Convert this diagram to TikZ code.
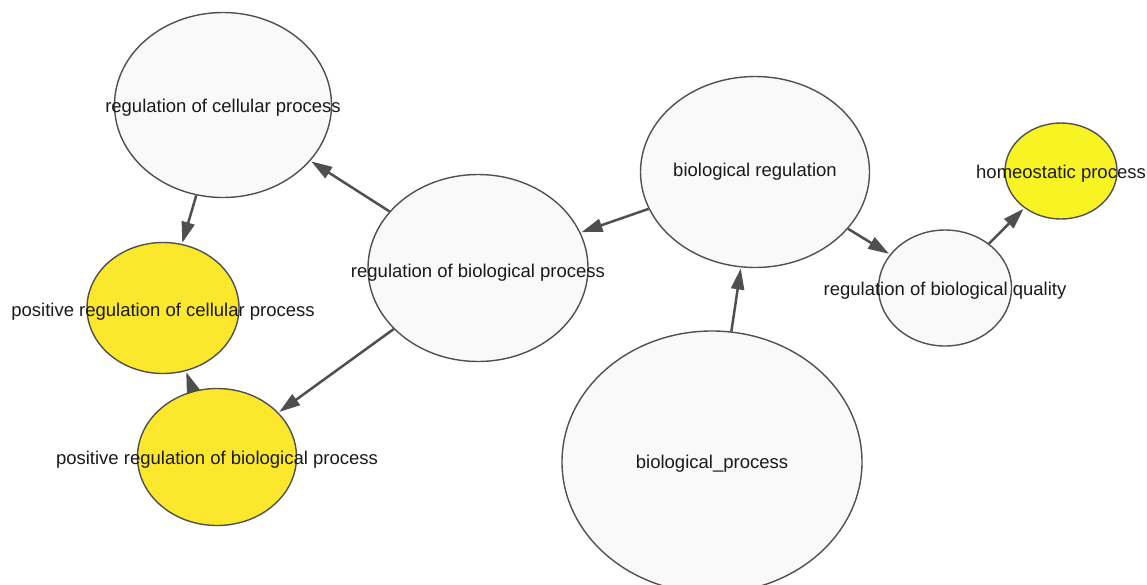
\documentclass[tikz,border=0pt]{standalone}
\usepackage{fontspec}
\setmainfont{Liberation Sans}
\usetikzlibrary{shapes.geometric,arrows.meta}
\definecolor{nodefill}{HTML}{F9F9F9}
\definecolor{nodeline}{HTML}{505050}
\definecolor{goldy}{HTML}{FBE72C}
\definecolor{lemon}{HTML}{F8F424}
\definecolor{edgecol}{HTML}{4F4F4F}
\definecolor{txtcol}{HTML}{1A1A1A}
\tikzset{
  term/.style={ellipse, draw=nodeline, line width=1.4pt, fill=nodefill, inner sep=0pt},
  lbl/.style={text=txtcol, font=\fontsize{18.5}{22}\selectfont, inner sep=0pt, anchor=center},
  edge/.style={draw=edgecol, line width=2.5pt, -{Triangle[length=21pt,width=13pt]}, shorten >=1pt, shorten <=0pt, color=edgecol},
}
\begin{document}
\begin{tikzpicture}[x=1pt,y=-1pt]
\useasboundingbox (0,0) rectangle (1147,584);
\node[term, minimum width=217pt, minimum height=185pt] (rcp) at (223,105) {};
\node[term, fill=goldy, minimum width=152pt, minimum height=131pt] (pcp) at (163,308) {};
\node[term, fill=goldy, minimum width=159pt, minimum height=137pt] (pbp) at (217,457) {};
\node[term, minimum width=220pt, minimum height=187pt] (rbp) at (478,268) {};
\node[term, minimum width=229pt, minimum height=191pt] (br) at (755,172) {};
\node[term, minimum width=300pt, minimum height=262pt] (bp) at (712,462) {};
\node[term, minimum width=133pt, minimum height=116pt] (rbq) at (945,288) {};
\node[term, fill=lemon, minimum width=112pt, minimum height=96pt] (hp) at (1061,171) {};

\draw[edge] (rbp) -- (rcp);
\draw[edge] (rcp) -- (pcp);
\draw[edge] (pbp) -- (pcp);
\draw[edge] (rbp) -- (pbp);
\draw[edge] (br) -- (rbp);
\draw[edge] (bp) -- (br);
\draw[edge] (br) -- (rbq);
\draw[edge] (rbq) -- (hp);

\node[lbl] (trcp) at (223,107.5) {regulation of cellular process};
\node[lbl] (tpcp) at (163,311.5) {positive regulation of cellular process};
\node[lbl] (tpbp) at (217,459.5) {positive regulation of biological process};
\node[lbl] (trbp) at (478,272.5) {regulation of biological process};
\node[lbl] (tbr) at (755,171.5) {biological regulation};
\node[lbl] (tbp) at (712,463.5) {biological\_process};
\node[lbl] (trbq) at (945,290.5) {regulation of biological quality};
\node[lbl] (thp) at (1061,173.5) {homeostatic process};
\end{tikzpicture}
\end{document}
